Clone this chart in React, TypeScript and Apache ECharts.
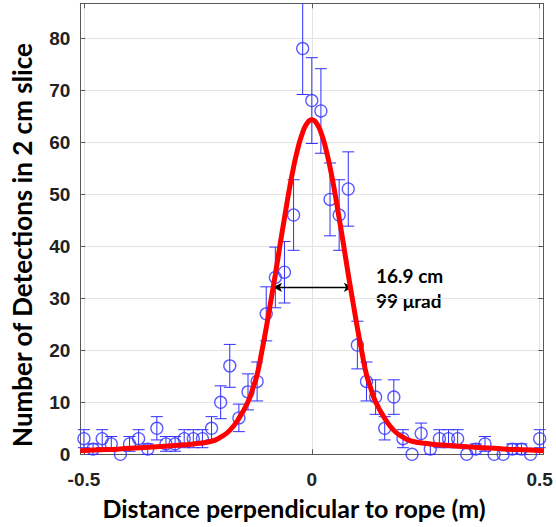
import React, { useEffect, useRef } from "react";
import * as echarts from "echarts";

// bin centres (m)
const binCenters = [
  -0.5, -0.48, -0.46, -0.44, -0.42, -0.4, -0.38, -0.36, -0.34, -0.32, -0.3, -0.28, -0.26,
  -0.24, -0.22, -0.2, -0.18, -0.16, -0.14, -0.12, -0.1, -0.08, -0.06, -0.04, -0.02, 0,
  0.02, 0.04, 0.06, 0.08, 0.1, 0.12, 0.14, 0.16, 0.18, 0.2, 0.22, 0.24, 0.26, 0.28, 0.3,
  0.32, 0.34, 0.36, 0.38, 0.4, 0.42, 0.44, 0.46, 0.48, 0.5,
];
// detections per 2 cm slice
const counts = [
  3, 1, 3, 2, 0, 2, 3, 1, 5, 2, 2, 3, 3,
  3, 5, 10, 17, 7, 12, 14, 27, 34, 35, 46, 78, 68,
  66, 49, 46, 51, 21, 14, 11, 5, 11, 3, 0, 4, 1, 3, 3,
  3, 0, 1, 2, 0, 0, 1, 1, 0, 3,
];
// fitted curve
const fitX = [
  -0.508, -0.45, -0.4, -0.35, -0.3, -0.26, -0.22, -0.2, -0.18, -0.16, -0.14, -0.13, -0.12,
  -0.11, -0.1, -0.09, -0.08, -0.07, -0.06, -0.05, -0.04, -0.03, -0.02, -0.01, 0,
  0.01, 0.02, 0.03, 0.04, 0.05, 0.06, 0.07, 0.08, 0.09, 0.1, 0.11, 0.12, 0.13, 0.14,
  0.16, 0.18, 0.2, 0.22, 0.26, 0.3, 0.35, 0.4, 0.45, 0.508,
];
const fitY = [
  0.7, 0.9, 1.15, 1.4, 1.7, 2.0, 2.5, 3.3, 4.6, 6.9, 10.1, 12.5, 15.3,
  19.6, 24.3, 29.4, 34.6, 40.1, 45.4, 50.6, 55.2, 59.0, 61.9, 63.7, 64.3,
  63.7, 61.9, 59.0, 55.2, 50.6, 45.4, 40.1, 34.6, 29.4, 24.3, 19.6, 15.3, 12.5, 10.1,
  6.9, 4.6, 3.3, 2.5, 2.0, 1.7, 1.4, 1.15, 0.9, 0.7,
];
// FWHM arrow
const arrowX = [-0.085, 0.09];
const arrowY = 32.1;
const fwhmLabels = ["16.9 cm", "99 \u03bcrad"];

const xTicks = [-0.5, 0, 0.5];
const yTicks = [0, 10, 20, 30, 40, 50, 60, 70, 80];
const xMin = -0.508;
const xMax = 0.508;
const yMin = 0;
const yMax = 86.7;

const xTitle = "Distance perpendicular to rope (m)";
const yTitle = "Number of Detections in 2 cm slice";

const BLUE = "#2f2fff";
const AXIS = "#5a5a5a";
const GRID = "#e3e3e3";

export default function App() {
  const ref = useRef<HTMLDivElement>(null);
  useEffect(() => {
    if (!ref.current) return;
    const chart = echarts.init(ref.current, null, { renderer: "svg" });
    const pts = binCenters.map((x, i) => [x, counts[i]]);
    const fit = fitX.map((x, i) => [x, fitY[i]]);

    const commonX = {
      type: "value",
      min: xMin,
      max: xMax,
      axisLine: { show: true, onZero: false, lineStyle: { color: AXIS, width: 1 } },
      axisTick: { show: true, inside: true, length: 5, customValues: xTicks, lineStyle: { color: AXIS } },
    };
    const commonY = {
      type: "value",
      min: yMin,
      max: yMax,
      axisLine: { show: true, onZero: false, lineStyle: { color: AXIS, width: 1 } },
      axisTick: { show: true, inside: true, length: 5, customValues: yTicks, lineStyle: { color: AXIS } },
    };

    chart.setOption({
      animation: false,
      backgroundColor: "#ffffff",
      grid: { left: 80.3, right: 12.7, top: 3.3, bottom: 72.7, containLabel: false },
      xAxis: [
        {
          ...commonX,
          position: "bottom",
          axisLabel: {
            show: true,
            customValues: xTicks,
            margin: 16,
            color: "#222",
            fontWeight: "bold",
            fontSize: 19,
            fontFamily: "'Liberation Sans', Arial, sans-serif",
            formatter: (v: number) => (v === 0 ? "0" : String(v)),
          },
          splitLine: { show: true, lineStyle: { color: GRID, width: 1 } },
        },
        {
          ...commonX,
          position: "top",
          axisLabel: { show: false },
          splitLine: { show: false },
        },
      ],
      yAxis: [
        {
          ...commonY,
          position: "left",
          axisLabel: {
            show: true,
            customValues: yTicks,
            margin: 10,
            color: "#222",
            fontWeight: "bold",
            fontSize: 19,
            fontFamily: "'Liberation Sans', Arial, sans-serif",
          },
          splitLine: { show: true, lineStyle: { color: GRID, width: 1 } },
        },
        {
          ...commonY,
          position: "right",
          axisLabel: { show: false },
          splitLine: { show: false },
        },
      ],
      series: [
        {
          type: "custom",
          name: "errors",
          xAxisIndex: 0,
          yAxisIndex: 0,
          data: pts,
          z: 2,
          renderItem: (params: any, api: any) => {
            const x = api.value(0);
            const c = api.value(1);
            const e = Math.sqrt(c);
            if (e === 0) return { type: "group", children: [] };
            const topVal = Math.min(c + e, yMax);
            const lo = api.coord([x, c - e]);
            const hi = api.coord([x, topVal]);
            const cap = 6;
            const style = { stroke: BLUE, lineWidth: 1 };
            const children: any[] = [
              { type: "line", shape: { x1: lo[0], y1: lo[1], x2: hi[0], y2: hi[1] }, style },
              { type: "line", shape: { x1: lo[0] - cap, y1: lo[1], x2: lo[0] + cap, y2: lo[1] }, style },
            ];
            if (c + e <= yMax) {
              children.push({ type: "line", shape: { x1: hi[0] - cap, y1: hi[1], x2: hi[0] + cap, y2: hi[1] }, style });
            }
            return { type: "group", children };
          },
        },
        {
          type: "scatter",
          name: "counts",
          data: pts,
          symbol: "circle",
          symbolSize: 12,
          clip: false,
          z: 3,
          itemStyle: { color: "rgba(0,0,0,0)", borderColor: BLUE, borderWidth: 1.3 },
        },
        {
          type: "line",
          name: "fit",
          data: fit,
          smooth: 0.5,
          showSymbol: false,
          symbol: "none",
          z: 5,
          lineStyle: { color: "#ff0000", width: 5 },
          markLine: {
            silent: true,
            symbol: ["arrow", "arrow"],
            symbolSize: [7, 9],
            label: { show: false },
            lineStyle: { color: "#000", width: 1.3, type: "solid" },
            data: [[{ coord: [arrowX[0], arrowY] }, { coord: [arrowX[1], arrowY] }]],
          },
        },
      ],
      graphic: [
        {
          type: "text",
          x: 376,
          y: 275,
          style: {
            text: fwhmLabels[0],
            font: "bold 19px Lato, 'Open Sans', sans-serif",
            fill: "#000",
            textAlign: "left",
            textVerticalAlign: "middle",
          },
        },
        {
          type: "text",
          x: 376,
          y: 300,
          style: {
            text: fwhmLabels[1],
            font: "bold 19px Lato, 'Open Sans', sans-serif",
            fill: "#000",
            textAlign: "left",
            textVerticalAlign: "middle",
          },
        },
        {
          type: "text",
          x: 294,
          y: 508,
          style: {
            text: xTitle,
            font: "bold 25px Lato, 'Open Sans', sans-serif",
            fill: "#000",
            textAlign: "center",
            textVerticalAlign: "middle",
          },
        },
        {
          type: "text",
          x: 22,
          y: 245,
          rotation: Math.PI / 2,
          style: {
            text: yTitle,
            font: "bold 26px Lato, 'Open Sans', sans-serif",
            fill: "#000",
            textAlign: "center",
            textVerticalAlign: "middle",
          },
        },
      ],
    });
    return () => chart.dispose();
  }, []);
  return (
    <div
      ref={ref}
      style={{ position: "fixed", left: 0, top: 0, width: 556, height: 527, background: "#fff" }}
    />
  );
}
